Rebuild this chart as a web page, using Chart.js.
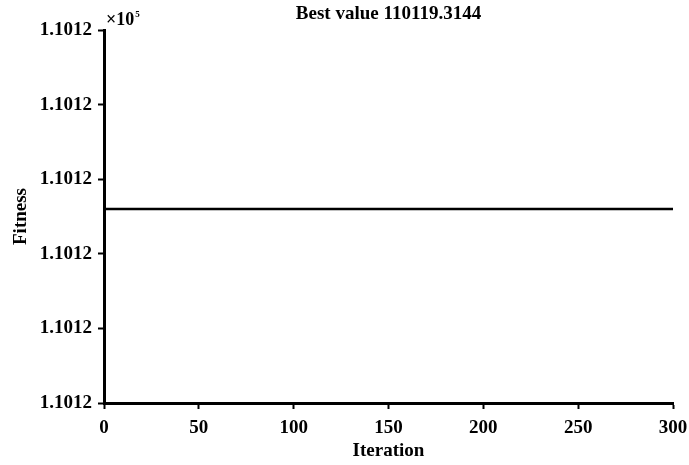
<!DOCTYPE html>
<html>
<head>
<meta charset="utf-8">
<script src="https://cdn.jsdelivr.net/npm/chart.js@4/dist/chart.umd.min.js"></script>
<style>
  html, body { margin: 0; padding: 0; background: #fff; }
  #wrap { width: 689px; height: 465px; position: relative; }
</style>
</head>
<body>
<div id="wrap"><canvas id="c" width="689" height="465"></canvas></div>
<script>
// Convergence record of the optimiser
const bestValue = 110119.3144;
const iterations = [0, 50, 100, 150, 200, 250, 300];
const fitness = [110119.3144, 110119.3144, 110119.3144, 110119.3144, 110119.3144, 110119.3144, 110119.3144];
const xTicks = [0, 50, 100, 150, 200, 250, 300];
const yTicks = [110119.3118, 110119.3128, 110119.3138, 110119.3148, 110119.3158, 110119.3168];
const yTickLabels = ['1.1012', '1.1012', '1.1012', '1.1012', '1.1012', '1.1012'];

const FONT = '"Liberation Serif", "Times New Roman", serif';

// Title and the axis exponent written above the y axis
const annotations = {
  id: 'annotations',
  afterDraw(chart) {
    const { ctx, chartArea } = chart;
    ctx.save();
    ctx.fillStyle = '#000';
    ctx.textBaseline = 'alphabetic';
    ctx.font = 'bold 19px ' + FONT;
    ctx.textAlign = 'center';
    ctx.fillText('Best value ' + bestValue.toFixed(4), (chartArea.left + chartArea.right) / 2, 19);
    ctx.textAlign = 'left';
    ctx.font = 'bold 18px ' + FONT;
    ctx.fillText('\u00d710', chartArea.left + 2, 25);
    const w = ctx.measureText('\u00d710').width;
    ctx.font = 'bold 9px ' + FONT;
    ctx.fillText('5', chartArea.left + 3 + w, 17);
    ctx.restore();
  }
};

new Chart(document.getElementById('c'), {
  type: 'line',
  data: {
    datasets: [{
      data: iterations.map((it, i) => ({ x: it, y: fitness[i] })),
      borderColor: '#000',
      borderWidth: 2.5,
      pointRadius: 0,
      fill: false,
      tension: 0
    }]
  },
  options: {
    responsive: false,
    animation: false,
    layout: { padding: { top: 30, right: 16, left: 0, bottom: 0 } },
    plugins: { legend: { display: false }, tooltip: { enabled: false }, title: { display: false } },
    scales: {
      x: {
        type: 'linear',
        min: 0, max: 300,
        afterBuildTicks(scale) { scale.ticks = xTicks.map(v => ({ value: v })); },
        afterFit(scale) {
          scale.height = 62;
          scale.paddingLeft = 0;
          scale.paddingRight = 16;
        },
        grid: {
          display: true, drawOnChartArea: false, drawTicks: true,
          tickLength: 6, tickWidth: 2, tickColor: '#000'
        },
        border: { display: true, color: '#000', width: 3 },
        ticks: {
          color: '#000', padding: 8, maxRotation: 0,
          font: { family: FONT, size: 19, weight: 'bold' },
          callback: v => String(v)
        },
        title: {
          display: true, text: 'Iteration', color: '#000',
          font: { family: FONT, size: 19, weight: 'bold' },
          padding: { top: 4, bottom: 3 }
        }
      },
      y: {
        type: 'linear',
        min: yTicks[0], max: yTicks[yTicks.length - 1],
        afterBuildTicks(scale) { scale.ticks = yTicks.map(v => ({ value: v })); },
        afterFit(scale) { scale.width = 104; },
        grid: {
          display: true, drawOnChartArea: false, drawTicks: true,
          tickLength: 6, tickWidth: 2, tickColor: '#000'
        },
        border: { display: true, color: '#000', width: 3 },
        ticks: {
          color: '#000', padding: 6,
          font: { family: FONT, size: 19, weight: 'bold' },
          callback: (v, i) => yTickLabels[i]
        },
        title: {
          display: true, text: 'Fitness', color: '#000',
          font: { family: FONT, size: 19, weight: 'bold' },
          padding: { top: 10, bottom: 0 }
        }
      }
    }
  },
  plugins: [annotations]
});
</script>
</body>
</html>
